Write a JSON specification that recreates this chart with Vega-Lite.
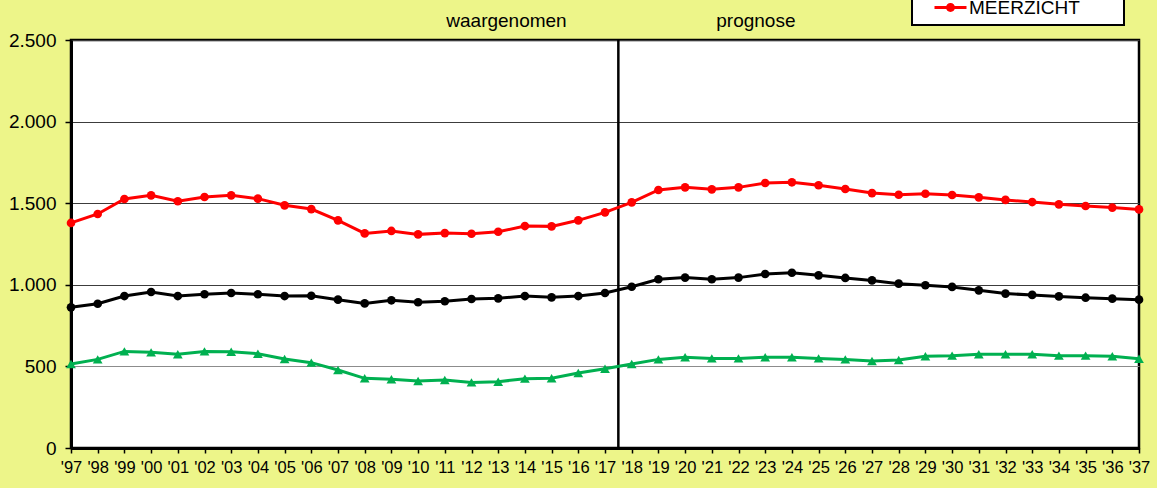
{
  "$schema": "https://vega.github.io/schema/vega-lite/v6.json",
  "autosize": "none",
  "padding": {"left": 71, "top": 40, "right": 18, "bottom": 40},
  "width": 1068,
  "height": 408,
  "background": "#EDF589",
  "datasets": {
    "series": [
      {"year": 1997, "series": "MEERZICHT", "value": 1379}, {"year": 1998, "series": "MEERZICHT", "value": 1434}, {"year": 1999, "series": "MEERZICHT", "value": 1526}, {"year": 2000, "series": "MEERZICHT", "value": 1548}, {"year": 2001, "series": "MEERZICHT", "value": 1512}, {"year": 2002, "series": "MEERZICHT", "value": 1538}, {"year": 2003, "series": "MEERZICHT", "value": 1548}, {"year": 2004, "series": "MEERZICHT", "value": 1528}, {"year": 2005, "series": "MEERZICHT", "value": 1487}, {"year": 2006, "series": "MEERZICHT", "value": 1464}, {"year": 2007, "series": "MEERZICHT", "value": 1395}, {"year": 2008, "series": "MEERZICHT", "value": 1315}, {"year": 2009, "series": "MEERZICHT", "value": 1330}, {"year": 2010, "series": "MEERZICHT", "value": 1309}, {"year": 2011, "series": "MEERZICHT", "value": 1317}, {"year": 2012, "series": "MEERZICHT", "value": 1313}, {"year": 2013, "series": "MEERZICHT", "value": 1325}, {"year": 2014, "series": "MEERZICHT", "value": 1360}, {"year": 2015, "series": "MEERZICHT", "value": 1358}, {"year": 2016, "series": "MEERZICHT", "value": 1395}, {"year": 2017, "series": "MEERZICHT", "value": 1444}, {"year": 2018, "series": "MEERZICHT", "value": 1505}, {"year": 2019, "series": "MEERZICHT", "value": 1581}, {"year": 2020, "series": "MEERZICHT", "value": 1597}, {"year": 2021, "series": "MEERZICHT", "value": 1585}, {"year": 2022, "series": "MEERZICHT", "value": 1597}, {"year": 2023, "series": "MEERZICHT", "value": 1624}, {"year": 2024, "series": "MEERZICHT", "value": 1628}, {"year": 2025, "series": "MEERZICHT", "value": 1610}, {"year": 2026, "series": "MEERZICHT", "value": 1587}, {"year": 2027, "series": "MEERZICHT", "value": 1562}, {"year": 2028, "series": "MEERZICHT", "value": 1552}, {"year": 2029, "series": "MEERZICHT", "value": 1558}, {"year": 2030, "series": "MEERZICHT", "value": 1550}, {"year": 2031, "series": "MEERZICHT", "value": 1536}, {"year": 2032, "series": "MEERZICHT", "value": 1520}, {"year": 2033, "series": "MEERZICHT", "value": 1507}, {"year": 2034, "series": "MEERZICHT", "value": 1493}, {"year": 2035, "series": "MEERZICHT", "value": 1483}, {"year": 2036, "series": "MEERZICHT", "value": 1473}, {"year": 2037, "series": "MEERZICHT", "value": 1462},
      {"year": 1997, "series": "Totaal", "value": 862}, {"year": 1998, "series": "Totaal", "value": 884}, {"year": 1999, "series": "Totaal", "value": 931}, {"year": 2000, "series": "Totaal", "value": 956}, {"year": 2001, "series": "Totaal", "value": 931}, {"year": 2002, "series": "Totaal", "value": 942}, {"year": 2003, "series": "Totaal", "value": 950}, {"year": 2004, "series": "Totaal", "value": 942}, {"year": 2005, "series": "Totaal", "value": 931}, {"year": 2006, "series": "Totaal", "value": 933}, {"year": 2007, "series": "Totaal", "value": 909}, {"year": 2008, "series": "Totaal", "value": 886}, {"year": 2009, "series": "Totaal", "value": 905}, {"year": 2010, "series": "Totaal", "value": 893}, {"year": 2011, "series": "Totaal", "value": 899}, {"year": 2012, "series": "Totaal", "value": 913}, {"year": 2013, "series": "Totaal", "value": 917}, {"year": 2014, "series": "Totaal", "value": 931}, {"year": 2015, "series": "Totaal", "value": 923}, {"year": 2016, "series": "Totaal", "value": 931}, {"year": 2017, "series": "Totaal", "value": 950}, {"year": 2018, "series": "Totaal", "value": 988}, {"year": 2019, "series": "Totaal", "value": 1034}, {"year": 2020, "series": "Totaal", "value": 1044}, {"year": 2021, "series": "Totaal", "value": 1034}, {"year": 2022, "series": "Totaal", "value": 1044}, {"year": 2023, "series": "Totaal", "value": 1066}, {"year": 2024, "series": "Totaal", "value": 1074}, {"year": 2025, "series": "Totaal", "value": 1058}, {"year": 2026, "series": "Totaal", "value": 1042}, {"year": 2027, "series": "Totaal", "value": 1027}, {"year": 2028, "series": "Totaal", "value": 1007}, {"year": 2029, "series": "Totaal", "value": 997}, {"year": 2030, "series": "Totaal", "value": 987}, {"year": 2031, "series": "Totaal", "value": 966}, {"year": 2032, "series": "Totaal", "value": 946}, {"year": 2033, "series": "Totaal", "value": 938}, {"year": 2034, "series": "Totaal", "value": 929}, {"year": 2035, "series": "Totaal", "value": 921}, {"year": 2036, "series": "Totaal", "value": 915}, {"year": 2037, "series": "Totaal", "value": 909},
      {"year": 1997, "series": "Overig", "value": 515}, {"year": 1998, "series": "Overig", "value": 543}, {"year": 1999, "series": "Overig", "value": 592}, {"year": 2000, "series": "Overig", "value": 586}, {"year": 2001, "series": "Overig", "value": 574}, {"year": 2002, "series": "Overig", "value": 592}, {"year": 2003, "series": "Overig", "value": 590}, {"year": 2004, "series": "Overig", "value": 578}, {"year": 2005, "series": "Overig", "value": 545}, {"year": 2006, "series": "Overig", "value": 523}, {"year": 2007, "series": "Overig", "value": 478}, {"year": 2008, "series": "Overig", "value": 427}, {"year": 2009, "series": "Overig", "value": 421}, {"year": 2010, "series": "Overig", "value": 411}, {"year": 2011, "series": "Overig", "value": 417}, {"year": 2012, "series": "Overig", "value": 402}, {"year": 2013, "series": "Overig", "value": 406}, {"year": 2014, "series": "Overig", "value": 425}, {"year": 2015, "series": "Overig", "value": 427}, {"year": 2016, "series": "Overig", "value": 460}, {"year": 2017, "series": "Overig", "value": 486}, {"year": 2018, "series": "Overig", "value": 515}, {"year": 2019, "series": "Overig", "value": 543}, {"year": 2020, "series": "Overig", "value": 556}, {"year": 2021, "series": "Overig", "value": 549}, {"year": 2022, "series": "Overig", "value": 549}, {"year": 2023, "series": "Overig", "value": 556}, {"year": 2024, "series": "Overig", "value": 556}, {"year": 2025, "series": "Overig", "value": 549}, {"year": 2026, "series": "Overig", "value": 543}, {"year": 2027, "series": "Overig", "value": 533}, {"year": 2028, "series": "Overig", "value": 539}, {"year": 2029, "series": "Overig", "value": 562}, {"year": 2030, "series": "Overig", "value": 566}, {"year": 2031, "series": "Overig", "value": 574}, {"year": 2032, "series": "Overig", "value": 574}, {"year": 2033, "series": "Overig", "value": 574}, {"year": 2034, "series": "Overig", "value": 566}, {"year": 2035, "series": "Overig", "value": 566}, {"year": 2036, "series": "Overig", "value": 562}, {"year": 2037, "series": "Overig", "value": 547}
    ],
    "divider": [{"year": 2017.5}],
    "labels": [
      {"label": "waargenomen", "year": 2013.31, "value": 2581},
      {"label": "prognose", "year": 2022.65, "value": 2581}
    ]
  },
  "encoding": {
    "x": {"field": "year", "type": "quantitative", "scale": {"domain": [1997, 2037], "nice": false, "zero": false},
      "axis": {"values": [1997,1998,1999,2000,2001,2002,2003,2004,2005,2006,2007,2008,2009,2010,2011,2012,2013,2014,2015,2016,2017,2018,2019,2020,2021,2022,2023,2024,2025,2026,2027,2028,2029,2030,2031,2032,2033,2034,2035,2036,2037],
        "labelExpr": "\"'\" + substring(toString(datum.value), 2, 4)", "title": null, "grid": false, "labelFontSize": 16.5, "labelPadding": 6, "tickSize": 5, "labelOverlap": false, "labelFlush": false, "labelBound": false}}
  },
  "layer": [
    {
      "data": {"name": "divider"},
      "mark": {"type": "rule", "color": "black", "strokeWidth": 2.5}
    },
    {
      "data": {"name": "series"},
      "mark": {"type": "line", "strokeWidth": 3},
      "encoding": {
        "y": {"field": "value", "type": "quantitative", "scale": {"domain": [0, 2500], "nice": false},
          "axis": {"values": [0, 500, 1000, 1500, 2000, 2500], "labelExpr": "replace(format(datum.value, ','), ',', '.')", "title": null, "grid": true,
            "gridColor": {"condition": {"test": "datum.value === 500", "value": "#8C8C8C"}, "value": "#3C3C3C"},
            "labelFontSize": 19, "labelPadding": 9, "tickSize": 6}},
        "color": {"field": "series", "type": "nominal",
          "scale": {"domain": ["MEERZICHT", "Totaal", "Overig"], "range": ["#FF0000", "#000000", "#00B050"]},
          "legend": {"values": ["MEERZICHT"], "title": "\u00a0", "titleOrient": "right", "titlePadding": 37, "titleFontSize": 2,
            "orient": "none", "legendX": 841, "legendY": -49,
            "symbolSize": 256, "symbolOffset": 22, "labelOffset": 9, "labelFontSize": 19, "labelColor": "#000000",
            "padding": 7, "strokeColor": "#000000", "fillColor": "#FFFFFF",
            "encode": {"symbols": {"update": {
              "shape": {"value": "M-2,-0.19L2,-0.19L2,0.19L-2,0.19Z M0.56,0A0.56,0.56,0,1,1,-0.56,0A0.56,0.56,0,1,1,0.56,0Z"},
              "size": {"value": 256},
              "fill": {"value": "#FF0000"},
              "stroke": {"value": "#FF0000"},
              "strokeWidth": {"value": 0},
              "opacity": {"value": 1},
              "fillOpacity": {"value": 1}
            }}}}}
      }
    },
    {
      "data": {"name": "series"},
      "transform": [{"filter": "datum.series !== 'Overig'"}],
      "mark": {"type": "circle", "opacity": 1, "size": 75},
      "encoding": {
        "y": {"field": "value", "type": "quantitative"},
        "color": {"field": "series", "type": "nominal"}
      }
    },
    {
      "data": {"name": "series"},
      "transform": [{"filter": "datum.series === 'Overig'"}],
      "mark": {"type": "point", "shape": "triangle-up", "filled": true, "opacity": 1, "size": 95},
      "encoding": {
        "y": {"field": "value", "type": "quantitative"},
        "color": {"field": "series", "type": "nominal"}
      }
    },
    {
      "data": {"name": "labels"},
      "mark": {"type": "text", "fontSize": 19, "color": "#000000", "align": "center", "baseline": "alphabetic"},
      "encoding": {
        "y": {"field": "value", "type": "quantitative"},
        "text": {"field": "label"}
      }
    }
  ],
  "config": {
    "font": "Liberation Sans",
    "view": {"stroke": "#000000", "strokeWidth": 2.5, "fill": "#FFFFFF"},
    "axis": {"labelFont": "Liberation Sans", "labelColor": "#000000", "domainColor": "#000000", "domainWidth": 3, "tickColor": "#000000", "tickWidth": 1.5, "gridWidth": 1},
    "legend": {"labelFont": "Liberation Sans", "strokeWidth": 2, "cornerRadius": 0}
  }
}
